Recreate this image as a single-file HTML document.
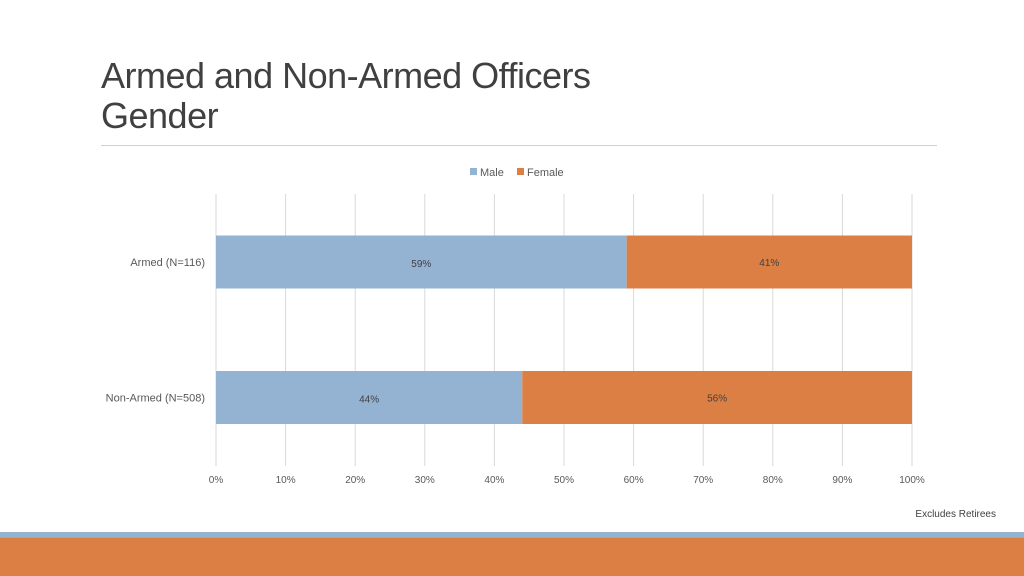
<!DOCTYPE html>
<html><head><meta charset="utf-8"><style>
body{margin:0;width:1024px;height:576px;overflow:hidden;background:#fff;font-family:"Liberation Sans",sans-serif;position:relative}
.t{position:absolute;left:101px;font-size:36px;color:#404040;line-height:40px;letter-spacing:-0.5px}
</style></head><body>
<div class="t" style="top:56px">Armed and Non-Armed Officers<br>Gender</div>
<div style="position:absolute;left:101px;top:145px;width:836px;height:1px;background:#d0d0d0"></div>
<svg id="c" width="1024" height="576" style="position:absolute;left:0;top:0"></svg>
<div style="position:absolute;left:0;top:532px;width:1024px;height:5px;background:#94b3cf"></div>
<div style="position:absolute;left:0;top:537px;width:1024px;height:1px;background:#c9a27a"></div>
<div style="position:absolute;left:0;top:538px;width:1024px;height:38px;background:#dc7f45"></div>
<script>
const categories=["Armed (N=116)","Non-Armed (N=508)"];
const male=[59,44];
const female=[41,56];
const ticks=[0,10,20,30,40,50,60,70,80,90,100];
const NS="http://www.w3.org/2000/svg",svg=document.getElementById('c');
const x=v=>216+v*6.96;
const yc=i=>262+i*135.5;
function mk(t,a,txt){const e=document.createElementNS(NS,t);for(const k in a)e.setAttribute(k,a[k]);if(txt!=null)e.textContent=txt;svg.appendChild(e);return e;}
ticks.forEach(t=>{
 const g=mk('line',{x1:x(t),x2:x(t),y1:194,y2:466,stroke:'#d9d9d9','stroke-width':1});
 
 
 const l=mk('text',{x:x(t),y:483,'font-size':10,fill:'#595959','text-anchor':'middle'},t+'%');
 
 
});
categories.forEach((c,i)=>{
 const y=yc(i);
 const lb=mk('text',{x:205,y:y+4,'font-size':11,fill:'#595959','text-anchor':'end'},c);
 
 
 const b1=mk('rect',{x:x(0),y:y-26.5,width:x(male[i])-x(0),height:53,fill:'#94b3d2'});
 
 
 const b2=mk('rect',{x:x(male[i]),y:y-26.5,width:x(male[i]+female[i])-x(male[i]),height:53,fill:'#dc7f45'});
 
 
 const v1=mk('text',{x:(x(0)+x(male[i]))/2,y:y+5,'font-size':10,fill:'#404040','text-anchor':'middle'},male[i]+'%');
 
 
 const v2=mk('text',{x:(x(male[i])+x(male[i]+female[i]))/2,y:y+4,'font-size':10,fill:'#404040','text-anchor':'middle'},female[i]+'%');
 
 
});
const lm=mk('rect',{x:470,y:168,width:7,height:7,fill:'#94b3d2'});


const lmt=mk('text',{x:480,y:176,'font-size':11,fill:'#595959'},'Male');


const lf=mk('rect',{x:517,y:168,width:7,height:7,fill:'#dc7f45'});


const lft=mk('text',{x:527,y:176,'font-size':11,fill:'#595959'},'Female');


const n=mk('text',{x:996,y:517,'font-size':10,fill:'#404040','text-anchor':'end'},'Excludes Retirees');


</script>
</body></html>
